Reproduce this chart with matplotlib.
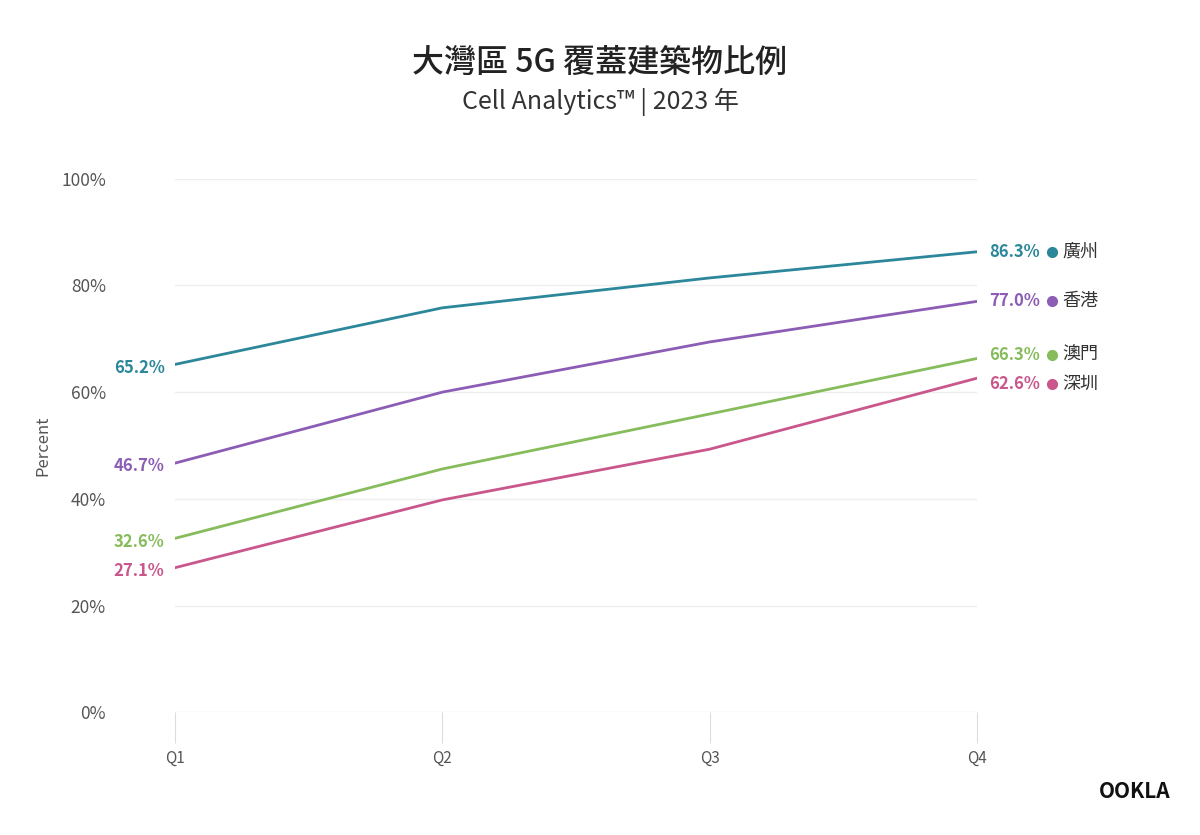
import matplotlib
matplotlib.use("Agg")
import matplotlib.pyplot as plt
from matplotlib import font_manager as fm

quarters = ["Q1", "Q2", "Q3", "Q4"]
names = ["廣州", "香港", "澳門", "深圳"]
guangzhou = [65.2, 75.8, 81.4, 86.3]
hongkong = [46.7, 60.0, 69.4, 77.0]
macau = [32.6, 45.6, 55.9, 66.3]
shenzhen = [27.1, 39.8, 49.3, 62.6]
series = [guangzhou, hongkong, macau, shenzhen]
colors = ["#2b8799", "#8c5db5", "#86bc5b", "#c9578c"]
yticks = [0, 20, 40, 60, 80, 100]
ytick_labels = ["0%", "20%", "40%", "60%", "80%", "100%"]
right_offsets = [0, 0, 0.6, -1.0]

for f in fm.findSystemFonts():
    if "NotoSansCJK" in f.replace(" ", ""):
        try:
            fm.fontManager.addfont(f)
        except Exception:
            pass
names_avail = {f.name for f in fm.fontManager.ttflist}
cjk = None
for cand in ["Noto Sans CJK TC", "Noto Sans CJK SC", "Noto Sans CJK JP", "Noto Sans CJK KR"]:
    if cand in names_avail:
        cjk = cand
        break
if cjk is None:
    cjk = next((n for n in names_avail if "CJK" in n), "DejaVu Sans")
plt.rcParams["font.family"] = [cjk, "DejaVu Sans"]

fig = plt.figure(figsize=(12, 8.35), dpi=100)
ax = fig.add_axes([0.146, 0.147, 0.668, 0.639])
x = list(range(len(quarters)))
for vals, c, n, off in zip(series, colors, names, right_offsets):
    ax.plot(x, vals, color=c, lw=2)
    ax.text(-0.04, vals[0] - 0.6, f"{vals[0]:.1f}%", color=c, ha="right", va="center",
            fontsize=12, fontweight="bold")
    yy = vals[-1] + off
    ax.text(3.045, yy, f"{vals[-1]:.1f}%", color=c, ha="left", va="center",
            fontsize=12, fontweight="bold")
    ax.plot([3.28], [yy], "o", color=c, ms=7, clip_on=False)
    ax.text(3.32, yy, n, color="#333333", ha="left", va="center", fontsize=13)
ax.set_xlim(0, 3)
ax.set_ylim(0, 100)
ax.set_yticks(yticks)
ax.set_yticklabels(ytick_labels, color="#555555", fontsize=12.5)
ax.set_xticks(x)
ax.set_xticklabels(quarters, color="#555555", fontsize=11)
ax.tick_params(axis="y", length=0, pad=50)
ax.tick_params(axis="x", length=22, color="#dddddd", pad=5)
ax.grid(axis="y", color="#eeeeee", lw=1)
for s in ax.spines.values():
    s.set_visible(False)
ax.set_ylabel("Percent", color="#555555", fontsize=12)
ax.yaxis.set_label_coords(-0.155, 0.5)
fig.text(0.5, 0.925, "大灣區 5G 覆蓋建築物比例", ha="center", va="center",
         fontsize=23, fontweight="medium", color="#222222")
fig.text(0.5, 0.878, "Cell Analytics™ | 2023 年", ha="center", va="center",
         fontsize=18, fontweight="normal", color="#333333")
fig.text(0.975, 0.052, "OOKLA", ha="right", va="center", fontsize=15,
         fontweight="bold", color="#111111")
fig.savefig("out.png", dpi=100)
